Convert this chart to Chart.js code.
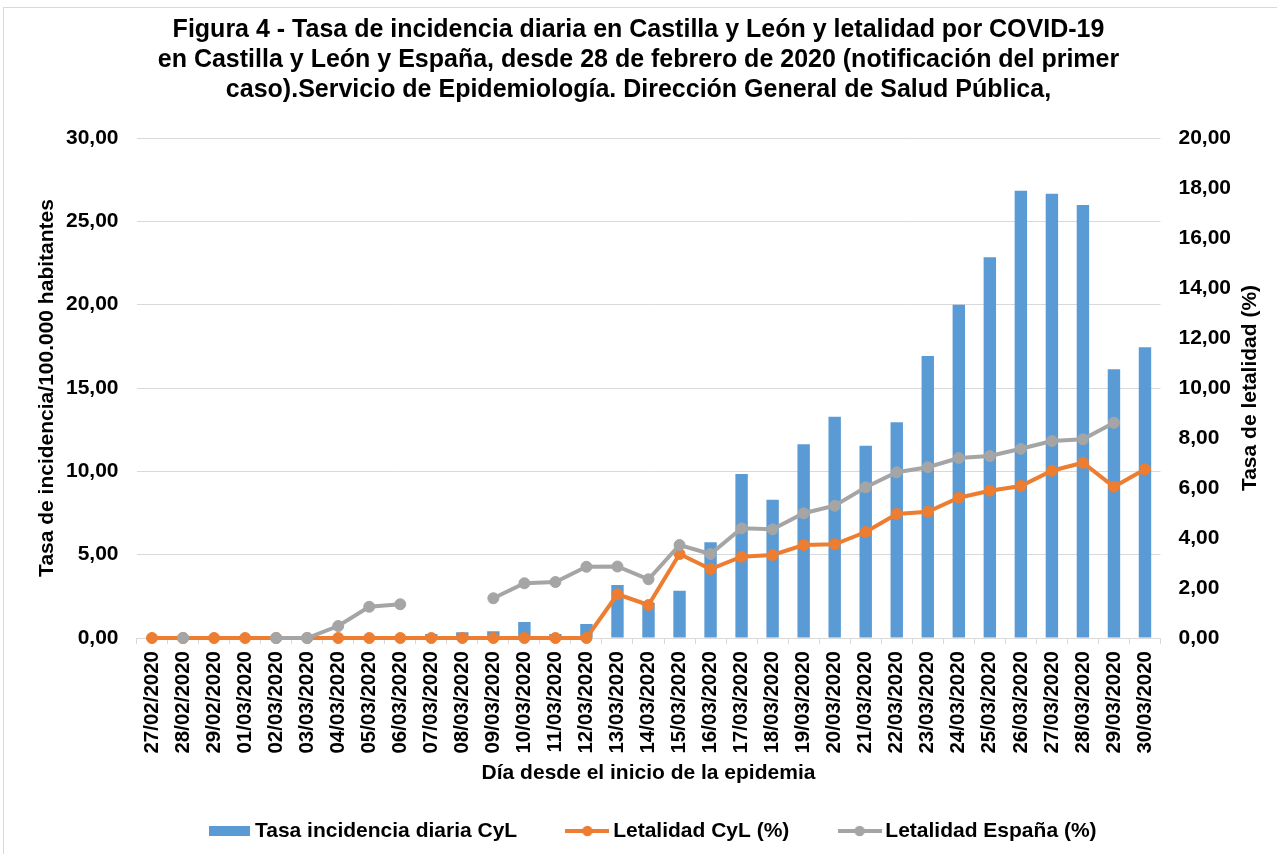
<!DOCTYPE html>
<html lang="es">
<head>
<meta charset="utf-8">
<title>Figura 4</title>
<script src="https://cdn.jsdelivr.net/npm/chart.js@4/dist/chart.umd.min.js"></script>
<style>
  html, body { margin: 0; padding: 0; background: #ffffff; overflow: hidden; }
  #wrap { position: relative; width: 1277px; height: 854px; }
  #c { display: block; background: #ffffff; }
  #frame { position: absolute; left: 3px; top: 7px; width: 1400px; height: 900px;
           border-left: 1px solid #d9d9d9; border-top: 1px solid #d9d9d9; pointer-events: none; }
</style>
</head>
<body>
<div id="wrap">
  <canvas id="c" width="1277" height="854"></canvas>
  <div id="frame"></div>
</div>
<script>
// ---------------- DATA ----------------
const categories = [
  '27/02/2020','28/02/2020','29/02/2020','01/03/2020','02/03/2020','03/03/2020',
  '04/03/2020','05/03/2020','06/03/2020','07/03/2020','08/03/2020','09/03/2020',
  '10/03/2020','11/03/2020','12/03/2020','13/03/2020','14/03/2020','15/03/2020',
  '16/03/2020','17/03/2020','18/03/2020','19/03/2020','20/03/2020','21/03/2020',
  '22/03/2020','23/03/2020','24/03/2020','25/03/2020','26/03/2020','27/03/2020',
  '28/03/2020','29/03/2020','30/03/2020'
];
const incidenciaCyL = [
  0, 0, 0, 0, 0, 0,
  0, 0, 0, 0.24, 0.34, 0.40,
  0.96, 0.24, 0.84, 3.18, 2.10, 2.84,
  5.74, 9.84, 8.30, 11.62, 13.28, 11.54,
  12.94, 16.92, 20.00, 22.84, 26.84, 26.66,
  25.98, 16.12, 17.44
];
const letalidadCyL = [
  0, 0, 0, 0, 0, 0,
  0, 0, 0, 0, 0, 0,
  0, 0, 0, 1.75, 1.32, 3.36,
  2.76, 3.25, 3.32, 3.72, 3.75, 4.24,
  4.96, 5.05, 5.61, 5.89, 6.08, 6.69,
  7.01, 6.05, 6.75
];
const letalidadEspana = [
  null, 0, null, null, 0, 0,
  0.48, 1.25, 1.35, null, null, 1.59,
  2.19, 2.24, 2.85, 2.86, 2.35, 3.72,
  3.36, 4.39, 4.35, 4.99, 5.29, 6.03,
  6.63, 6.83, 7.20, 7.28, 7.57, 7.88,
  7.95, 8.61, null
];
const leftTickLabels  = ['0,00','5,00','10,00','15,00','20,00','25,00','30,00'];
const rightTickLabels = ['0,00','2,00','4,00','6,00','8,00','10,00','12,00','14,00','16,00','18,00','20,00'];
const seriesNames = ['Tasa incidencia diaria CyL', 'Letalidad CyL (%)', 'Letalidad España (%)'];
const titleLines = [
  'Figura 4 - Tasa de incidencia diaria en Castilla y León y letalidad por COVID-19',
  'en Castilla y León y España, desde 28 de febrero de 2020 (notificación del primer',
  'caso).Servicio de Epidemiología. Dirección General de Salud Pública,'
];
const leftAxisTitle = 'Tasa de incidencia/100.000 habitantes';
const rightAxisTitle = 'Tasa de letalidad (%)';
const xAxisTitle = 'Día desde el inicio de la epidemia';

// ---------------- STYLE ----------------
const BLUE = '#5B9BD5', ORANGE = '#ED7D31', GREY = '#A5A5A5', GRID = '#d9d9d9';
const FAMILY = '"Liberation Sans", Arial, Helvetica, sans-serif';

function legendImg(kind, color) {
  const c = document.createElement('canvas');
  const ctx = c.getContext('2d');
  if (kind === 'bar') {
    c.width = 41; c.height = 10;
    ctx.fillStyle = color; ctx.fillRect(0, 0, 41, 10);
  } else {
    c.width = 44; c.height = 12;
    ctx.strokeStyle = color; ctx.lineWidth = 4;
    ctx.beginPath(); ctx.moveTo(0, 6); ctx.lineTo(44, 6); ctx.stroke();
    ctx.fillStyle = color;
    ctx.beginPath(); ctx.arc(22, 6, 5.2, 0, Math.PI * 2); ctx.fill();
  }
  return c;
}
const legendImgs = [legendImg('bar', BLUE), legendImg('line', ORANGE), legendImg('line', GREY)];

const shiftLegend = {
  id: 'shiftLegend',
  afterLayout(chart) {
    if (chart.legend) { chart.legend.left += 16.75; chart.legend.right += 16.75; }
  }
};

// right axis title reads bottom-to-top, like the left one
const rightTitle = {
  id: 'rightTitle',
  afterDraw(chart) {
    const ctx = chart.ctx;
    const area = chart.chartArea;
    ctx.save();
    ctx.translate(1250, (area.top + area.bottom) / 2);
    ctx.rotate(-Math.PI / 2);
    ctx.font = 'bold 21px ' + FAMILY;
    ctx.fillStyle = '#000';
    ctx.textAlign = 'center';
    ctx.textBaseline = 'middle';
    ctx.fillText(rightAxisTitle, 0, 0);
    ctx.restore();
  }
};

Chart.defaults.font.family = FAMILY;
Chart.defaults.color = '#000000';

new Chart(document.getElementById('c'), {
  data: {
    labels: categories,
    datasets: [
      {
        type: 'bar', label: seriesNames[0], data: incidenciaCyL, yAxisID: 'y',
        backgroundColor: BLUE, borderWidth: 0,
        categoryPercentage: 1.0, barPercentage: 0.4, order: 3
      },
      {
        type: 'line', label: seriesNames[1], data: letalidadCyL, yAxisID: 'y1',
        borderColor: ORANGE, backgroundColor: ORANGE, borderWidth: 4,
        pointRadius: 5.5, pointBorderWidth: 1, pointBackgroundColor: ORANGE, pointBorderColor: ORANGE,
        tension: 0, spanGaps: false, clip: false, order: 2
      },
      {
        type: 'line', label: seriesNames[2], data: letalidadEspana, yAxisID: 'y1',
        borderColor: GREY, backgroundColor: GREY, borderWidth: 4,
        pointRadius: 5.5, pointBorderWidth: 1, pointBackgroundColor: GREY, pointBorderColor: GREY,
        tension: 0, spanGaps: false, clip: false, order: 1
      }
    ]
  },
  options: {
    responsive: false,
    animation: false,
    devicePixelRatio: 1,
    layout: { padding: { left: 0, right: 0, top: 0, bottom: 2.5 } },
    plugins: {
      tooltip: { enabled: false },
      title: {
        display: true,
        text: titleLines,
        color: '#000',
        font: { family: FAMILY, size: 25, weight: 'bold', lineHeight: 1.2 },
        padding: { top: 15, bottom: 33 }
      },
      legend: {
        display: true,
        position: 'bottom',
        labels: {
          color: '#000',
          font: { family: FAMILY, size: 21, weight: 'bold' },
          usePointStyle: true,
          pointStyleWidth: 30.5,
          padding: 55,
          sort: (a, b) => a.datasetIndex - b.datasetIndex,
          generateLabels(chart) {
            const items = Chart.defaults.plugins.legend.labels.generateLabels(chart);
            items.forEach(it => { it.pointStyle = legendImgs[it.datasetIndex]; });
            return items;
          }
        }
      }
    },
    scales: {
      x: {
        type: 'category',
        offset: true,
        grid: { display: true, offset: true, drawOnChartArea: false, drawTicks: true, tickLength: 6, color: GRID, lineWidth: 1 },
        border: { display: true, color: GRID, width: 1 },
        ticks: {
          autoSkip: false, maxRotation: 90, minRotation: 90, padding: 7,
          color: '#000', font: { family: FAMILY, size: 20.5, weight: 'bold' }
        },
        title: {
          display: true, text: xAxisTitle, color: '#000',
          font: { family: FAMILY, size: 21, weight: 'bold', lineHeight: 1.2 },
          padding: { top: 0, bottom: -20.1 }
        },
        afterFit(scale) { scale.height = 127.5; }
      },
      y: {
        type: 'linear', position: 'left', min: 0, max: 30,
        ticks: {
          stepSize: 5, padding: 18, color: '#000',
          font: { family: FAMILY, size: 21, weight: 'bold' },
          callback: (v) => leftTickLabels[Math.round(v / 5)]
        },
        grid: { color: GRID, lineWidth: 1, drawTicks: false },
        border: { display: false },
        title: {
          display: true, text: leftAxisTitle, color: '#000',
          font: { family: FAMILY, size: 21, weight: 'bold', lineHeight: 1.2 },
          padding: { top: 34.4, bottom: 0 }
        },
        afterFit(scale) { scale.width = 136.5; }
      },
      y1: {
        type: 'linear', position: 'right', min: 0, max: 20,
        ticks: {
          stepSize: 2, padding: 18, color: '#000',
          font: { family: FAMILY, size: 21, weight: 'bold' },
          callback: (v) => rightTickLabels[Math.round(v / 2)]
        },
        grid: { drawOnChartArea: false, drawTicks: false },
        border: { display: false },
        title: { display: false, text: rightAxisTitle },
        afterFit(scale) { scale.width = 116.5; }
      }
    }
  },
  plugins: [shiftLegend, rightTitle]
});
</script>
</body>
</html>
